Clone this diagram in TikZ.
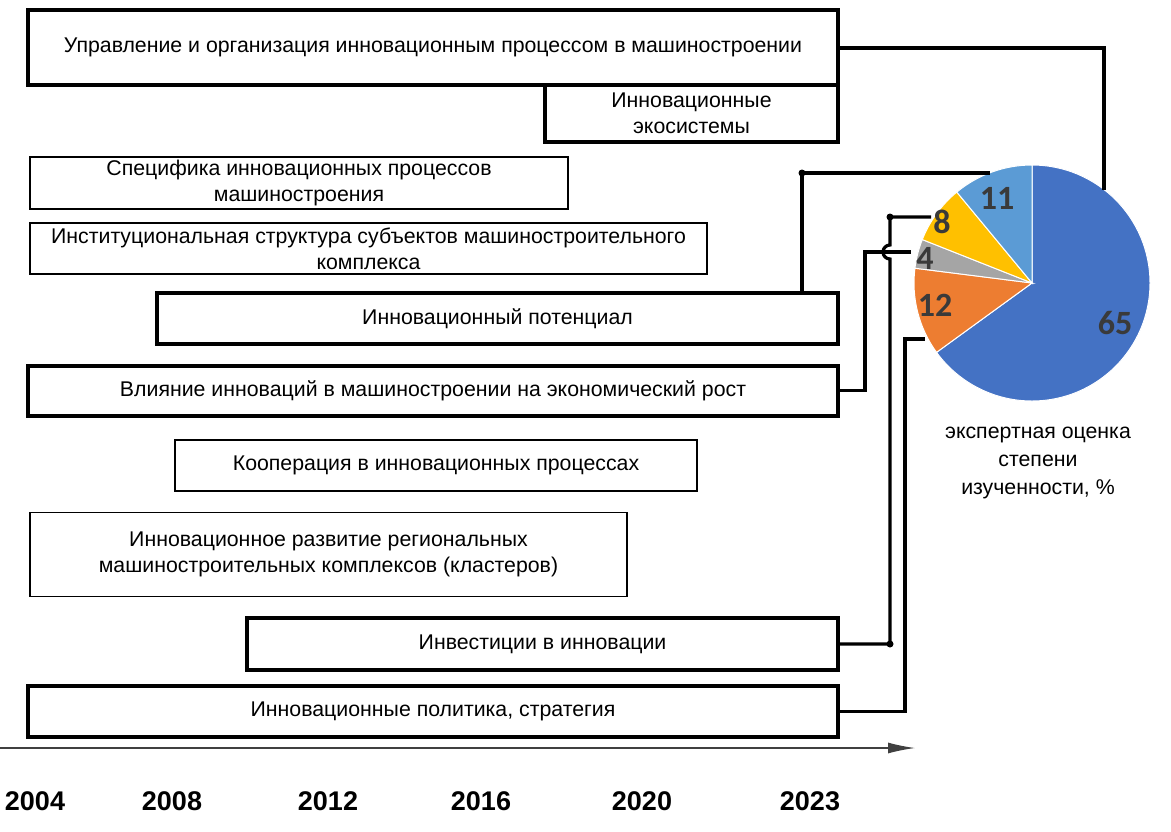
\documentclass[tikz,border=0pt]{standalone}
\usepackage{fontspec}
\setmainfont{Liberation Sans}
\newfontfamily\piefont{Carlito}
\usetikzlibrary{positioning,arrows.meta}

\definecolor{pieblue}{HTML}{4472C4}
\definecolor{pieorange}{HTML}{ED7D31}
\definecolor{piegray}{HTML}{A5A5A5}
\definecolor{pieyellow}{HTML}{FFC000}
\definecolor{pielight}{HTML}{5B9BD5}
\definecolor{pietext}{HTML}{3A3A3A}

\tikzset{
  boldbox/.style={draw, line width=4pt, align=center, inner sep=0pt,
    font=\fontsize{21.3}{26}\selectfont},
  thinbox/.style={draw, line width=1.3pt, align=center, inner sep=0pt,
    font=\fontsize{21.3}{26}\selectfont},
  link/.style={line width=3.2pt},
  share/.style={font=\piefont\bfseries\fontsize{34}{34}\selectfont, text=pietext},
  year/.style={font=\bfseries\fontsize{27}{27}\selectfont}
}

\begin{document}
\begin{tikzpicture}[x=1pt,y=-1pt]
\useasboundingbox (0,0) rectangle (1171,831);

\node[boldbox, minimum width=810, minimum height=75] (upr) at (433,47.5) {Управление и организация инновационным процессом в машиностроении};
\node[boldbox, minimum width=293, minimum height=57] (eco) at (691.5,113.5) {Инновационные\\экосистемы};
\node[thinbox, minimum width=538, minimum height=52] (spec) at (299,183) {Специфика инновационных процессов\\машиностроения};
\node[thinbox, minimum width=677, minimum height=51] (inst) at (368.5,248.5) {Институциональная структура субъектов машиностроительного\\комплекса};
\node[boldbox, minimum width=681, minimum height=51] (pot) at (497.5,318.5) {Инновационный потенциал};
\node[boldbox, minimum width=810, minimum height=50] (vliy) at (433,390.5) {Влияние инноваций в машиностроении на экономический рост};
\node[thinbox, minimum width=522, minimum height=51] (koop) at (436,465.5) {Кооперация в инновационных процессах};
\node[thinbox, minimum width=597, minimum height=84] (razv) at (328.5,554.5) {Инновационное развитие региональных\\машиностроительных комплексов (кластеров)};
\node[boldbox, minimum width=591, minimum height=52] (inv) at (542.5,644) {Инвестиции в инновации};
\node[boldbox, minimum width=810, minimum height=51] (pol) at (433,711.5) {Инновационные политика, стратегия};

% pie chart
\begin{scope}[shift={(1032,283)}, x=1pt, y=1pt, draw=white, line width=1pt]
\filldraw[fill=pieblue] (0,0) -- (90:118) arc[start angle=90, end angle=-144, radius=118] -- cycle;
\filldraw[fill=pieorange] (0,0) -- (-144:118) arc[start angle=-144, end angle=-187.2, radius=118] -- cycle;
\filldraw[fill=piegray] (0,0) -- (-187.2:118) arc[start angle=-187.2, end angle=-201.6, radius=118] -- cycle;
\filldraw[fill=pieyellow] (0,0) -- (-201.6:118) arc[start angle=-201.6, end angle=-230.4, radius=118] -- cycle;
\filldraw[fill=pielight] (0,0) -- (-230.4:118) arc[start angle=-230.4, end angle=-270, radius=118] -- cycle;
\end{scope}

\node[share] (s65) at (1115,323) {65};
\node[share] (s12) at (935,305) {12};
\node[share] (s4) at (925,258) {4};
\node[share] (s8) at (942,222) {8};
\node[share] (s11) at (997,198) {11};

\node[align=center, font=\fontsize{21.3}{28}\selectfont] (cap) at (1038,463) {экспертная оценка\\степени\\изученности, \%};

% connector ends on the pie
\coordinate (ptBlue) at (1104,190);
\coordinate (ptLight) at (990,173);
\coordinate (ptYellow) at (931,217);
\coordinate (ptGray) at (911,252);
\coordinate (ptOrange) at (925,339);
\coordinate (hop) at (890,252);

\draw[link] (upr.east |- 0,48) -| (ptBlue);
\draw[link] (pot.north -| 802,0) |- (ptLight);
\draw[link] (vliy.east) -- ++(25,0) |- (ptGray);
\draw[link] (inv.east) -| ([yshift=-7pt]hop) arc[start angle=-90, end angle=-270, radius=7pt] |- (ptYellow);
\draw[link] (pol.east) -- ++(65,0) |- (ptOrange);
\fill (802,173) circle (3.5);
\fill (890,217) circle (3.5);
\fill (890,644) circle (3.5);

% time axis
\draw[line width=1.3pt, draw=black!75, -{Latex[length=27pt,width=11pt]}] (0,748) -- (915,748);
\node[year] (y2004) at (35,801) {2004};
\node[year] (y2008) at (172,801) {2008};
\node[year] (y2012) at (328,801) {2012};
\node[year] (y2016) at (481,801) {2016};
\node[year] (y2020) at (642,801) {2020};
\node[year] (y2023) at (810,801) {2023};

\end{tikzpicture}
\end{document}
